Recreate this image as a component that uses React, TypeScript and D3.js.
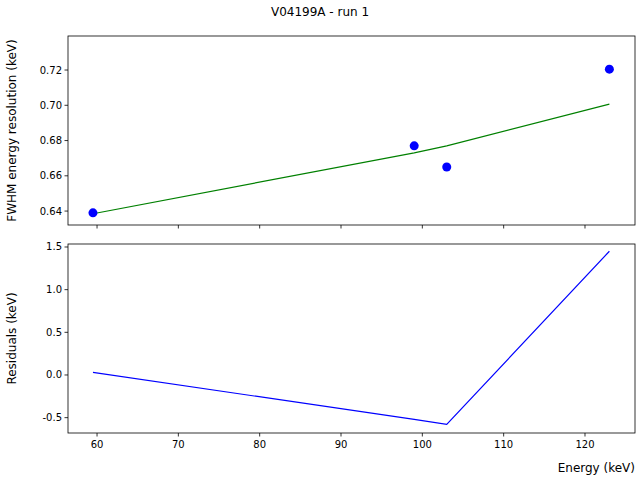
import React from "react";
import * as d3 from "d3";

const energies = [59.5, 99, 103, 123];
const fwhm = [0.639, 0.677, 0.665, 0.7205];
const fitLine = [0.6385, 0.673, 0.677, 0.7007];
const residuals = [0.03, -0.52, -0.58, 1.45];
const xTicks = [60, 70, 80, 90, 100, 110, 120];
const topTicks = [0.64, 0.66, 0.68, 0.7, 0.72];
const botTicks = [-0.5, 0, 0.5, 1, 1.5];

const L = 68, R = 635;
const x = d3.scaleLinear().domain([56.43, 126.15]).range([L, R]);
const yT = d3.scaleLinear().domain([0.6321, 0.7393]).range([225, 36]);
const yB = d3.scaleLinear().domain([-0.68, 1.535]).range([433, 244]);
const font = "DejaVu Sans";

function Axes({ y, ticks, top, bottom, labels, fmt }: any) {
  return (
    <g fontFamily={font} fontSize={10}>
      <rect x={L} y={top} width={R - L} height={bottom - top} fill="none" stroke="#000" strokeWidth={0.8} />
      {xTicks.map((t) => (
        <g key={t}>
          <line x1={x(t)} x2={x(t)} y1={bottom} y2={bottom + 3.5} stroke="#000" strokeWidth={0.8} />
          {labels && <text x={x(t)} y={bottom + 15} textAnchor="middle">{t}</text>}
        </g>
      ))}
      {ticks.map((t: number) => (
        <g key={t}>
          <line x1={L - 3.5} x2={L} y1={y(t)} y2={y(t)} stroke="#000" strokeWidth={0.8} />
          <text x={L - 6} y={y(t) + 3.5} textAnchor="end">{fmt(t)}</text>
        </g>
      ))}
    </g>
  );
}

export default function App() {
  const lineT = d3.line<number>().x((_, i) => x(energies[i])).y((d) => yT(d));
  const lineB = d3.line<number>().x((_, i) => x(energies[i])).y((d) => yB(d));
  return (
    <svg width={640} height={480} style={{ position: "absolute", left: 0, top: 0 }}>
      <rect width={640} height={480} fill="#fff" />
      <text x={320} y={16} textAnchor="middle" fontFamily={font} fontSize={12}>V04199A - run 1</text>
      <Axes y={yT} ticks={topTicks} top={36} bottom={225} labels={false} fmt={(t: number) => t.toFixed(2)} />
      <Axes y={yB} ticks={botTicks} top={244} bottom={433} labels={true} fmt={(t: number) => t.toFixed(1)} />
      <path d={lineT(fitLine) || ""} fill="none" stroke="green" strokeWidth={1.2} />
      {fwhm.map((v, i) => (
        <circle key={i} cx={x(energies[i])} cy={yT(v)} r={4.5} fill="blue" />
      ))}
      <path d={lineB(residuals) || ""} fill="none" stroke="blue" strokeWidth={1.2} />
      <text transform={`translate(16,${(36 + 225) / 2}) rotate(-90)`} textAnchor="middle" fontFamily={font} fontSize={12}>FWHM energy resolution (keV)</text>
      <text transform={`translate(16,${(244 + 433) / 2}) rotate(-90)`} textAnchor="middle" fontFamily={font} fontSize={12}>Residuals (keV)</text>
      <text x={635} y={472} textAnchor="end" fontFamily={font} fontSize={12}>Energy (keV)</text>
    </svg>
  );
}
